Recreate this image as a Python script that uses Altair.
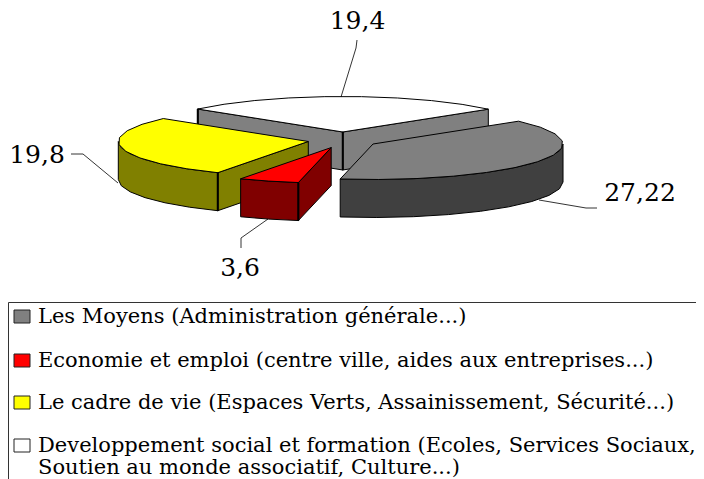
import math
import altair as alt
import pandas as pd

# ---- chart content -------------------------------------------------------
categories = [
    "Les Moyens (Administration générale...)",
    "Economie et emploi (centre ville, aides aux entreprises...)",
    "Le cadre de vie (Espaces Verts, Assainissement, Sécurité...)",
    "Developpement social et formation (Ecoles, Services Sociaux,\nSoutien au monde associatif, Culture...)",
]
values = [27.22, 3.6, 19.8, 19.4]
top_colors = ["#808080", "#ff0000", "#ffff00", "#ffffff"]
side_colors = ["#404040", "#800000", "#808000", "#808080"]

# ---- pie layout (page pixels) --------------------------------------------
CX, CY = 342.7, 140.0
RX, RY = 190.0, 35.5
DEPTH = 38.0
EXPLODE, EXPLODE_Y = 35.0, 0.229
FIRST_ANGLE = 50.0
STEP = 12.0
W, H = 688, 471
FONT = "DejaVu Serif"


def rim(apex, deg):
    a = math.radians(deg)
    return [apex[0] + RX * math.sin(a), apex[1] - RY * math.cos(a)]


def arc(apex, a0, a1):
    n = max(1, math.ceil(abs(a1 - a0) / STEP))
    return [rim(apex, a0 + (a1 - a0) * i / n) for i in range(n + 1)]


def down(pts):
    return [[x, y + DEPTH] for x, y in pts]


def poly(pts, fill):
    ring = pts + [pts[0]]
    return {
        "type": "Feature",
        "geometry": {"type": "Polygon", "coordinates": [ring]},
        "properties": {"fill": fill},
    }


total = sum(values)
spans = []
a = FIRST_ANGLE
for v in values:
    spans.append((a, a + v / total * 360.0))
    a = spans[-1][1]

apexes = []
for a0, a1 in spans:
    m = math.radians((a0 + a1) / 2)
    apexes.append((CX + EXPLODE * math.sin(m), CY - EXPLODE * EXPLODE_Y * math.cos(m)))

features = []


def cut_wall(i, deg):
    p = apexes[i]
    c = rim(p, deg)
    features.append(poly([list(p), c, [c[0], c[1] + DEPTH], [p[0], p[1] + DEPTH]], side_colors[i]))


def outer_wall(i, a0, a1):
    pts = arc(apexes[i], a0, a1)
    features.append(poly(pts + down(pts)[::-1], side_colors[i]))


def top(i):
    a0, a1 = spans[i]
    features.append(poly([list(apexes[i])] + arc(apexes[i], a0, a1), top_colors[i]))


def edge(p):
    # heavy vertical edge where two walls of a slice meet
    x, y = p
    features.append(poly([[x - 0.5, y], [x + 0.5, y], [x + 0.5, y + DEPTH], [x - 0.5, y + DEPTH]], "black"))


# back to front: white, yellow, red, grey
cut_wall(3, spans[3][0])
cut_wall(3, spans[3][1])
top(3)
edge(apexes[3])
edge(rim(apexes[3], spans[3][0]))
outer_wall(2, spans[2][0], 270.0)
cut_wall(2, spans[2][0])
top(2)
edge(rim(apexes[2], spans[2][0]))
outer_wall(1, spans[1][0], spans[1][1])
cut_wall(1, spans[1][0])
top(1)
edge(rim(apexes[1], spans[1][0]))
outer_wall(0, 90.0, spans[0][1])
top(0)

x_scale = alt.Scale(domain=[8, 8 + W], range=[0, W])
y_scale = alt.Scale(domain=[8, 8 + H], range=[0, H])
X = alt.X("x:Q", scale=x_scale, axis=None)
Y = alt.Y("y:Q", scale=y_scale, axis=None)

pie = alt.Chart(alt.Data(values=features)).mark_geoshape(
    stroke="black", strokeWidth=1, strokeJoin="round"
).encode(
    fill=alt.Fill("properties.fill:N", scale=None)
).project(type="identity", scale=1, translate=[-8, -8])

# value labels and leader lines
label_x = [640, 240, 37, 357.5]
label_y = [201, 276, 163, 29]
labels = pd.DataFrame({
    "t": [str(v).replace(".", ",") for v in values],
    "x": label_x,
    "y": label_y,
})
value_text = alt.Chart(labels).mark_text(
    font=FONT, fontSize=25, align="center", baseline="alphabetic", color="black"
).encode(x=X, y=Y, text="t:N")

leaders = pd.DataFrame({
    "s": [0, 0, 0, 1, 1, 1, 2, 2, 2, 3, 3, 3],
    "o": [0, 1, 2] * 4,
    "x": [539, 586, 597, 268, 241, 241, 118, 83, 71, 341, 356, 357],
    "y": [200, 208, 208, 219, 238, 248, 183, 154, 154, 97, 48, 40],
})
leader_lines = alt.Chart(leaders).mark_line(color="black", strokeWidth=0.8).encode(
    x=X, y=Y, detail="s:N", order="o:Q"
)

# legend panel
row_base = [323, 367, 409, 452]
rows = []
swatches = []
for i, c in enumerate(categories):
    for j, line in enumerate(c.split("\n")):
        rows.append({"t": line, "x": 38, "y": row_base[i] + 22 * j})
    swatches.append({"x": 14, "x2": 30, "y": row_base[i] - 13, "y2": row_base[i], "c": top_colors[i]})

legend_text = alt.Chart(pd.DataFrame(rows)).mark_text(
    font=FONT, fontSize=21, align="left", baseline="alphabetic", color="black"
).encode(x=X, y=Y, text="t:N")

legend_swatch = alt.Chart(pd.DataFrame(swatches)).mark_rect(
    stroke="#222222", strokeWidth=1
).encode(
    x=X, x2="x2:Q", y=Y, y2="y2:Q", fill=alt.Fill("c:N", scale=None)
)

frame = alt.Chart(pd.DataFrame({
    "o": [0, 1, 2],
    "x": [8.5, 8.5, 696],
    "y": [479, 302.5, 302.5],
})).mark_line(color="#333333", strokeWidth=1).encode(x=X, y=Y, order="o:Q")

chart = alt.layer(
    pie, leader_lines, value_text, frame, legend_swatch, legend_text
).resolve_scale(x="shared", y="shared").properties(
    width=W, height=H, padding=0, autosize=alt.AutoSizeParams(type="none")
).configure_view(stroke=None)

chart.save("out.html", embed_options={"renderer": "svg", "actions": False})
